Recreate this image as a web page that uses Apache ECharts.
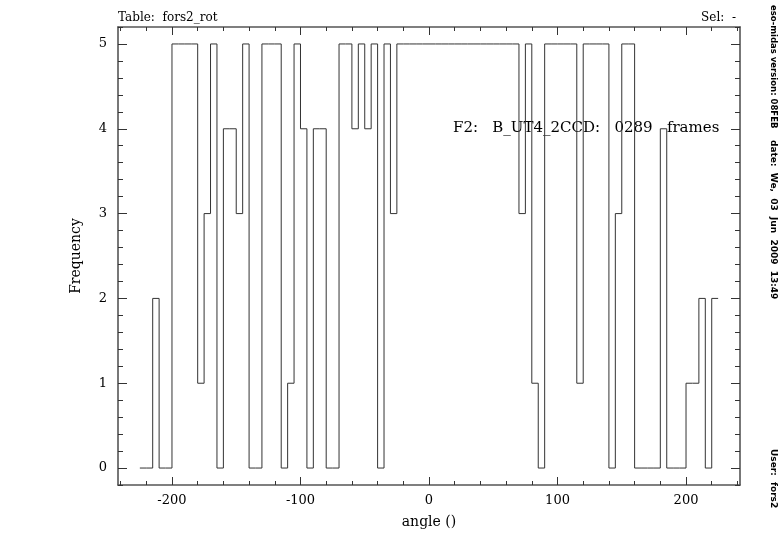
<!DOCTYPE html>
<html>
<head>
<meta charset="utf-8">
<script src="https://cdn.jsdelivr.net/npm/echarts@6/dist/echarts.min.js"></script>
<style>
html,body{margin:0;padding:0;background:#fff;}
#chart{width:782px;height:542px;}
</style>
</head>
<body>
<div id="chart"></div>
<script>
// Histogram bins (left edge of each 5-degree bin) and frequencies
var binLeft = [-225,-220,-215,-210,-205,-200,-195,-190,-185,-180,-175,-170,-165,-160,-155,-150,-145,-140,-135,-130,
  -125,-120,-115,-110,-105,-100,-95,-90,-85,-80,-75,-70,-65,-60,-55,-50,-45,-40,-35,-30,
  -25,-20,-15,-10,-5,0,5,10,15,20,25,30,35,40,45,50,55,60,65,70,
  75,80,85,90,95,100,105,110,115,120,125,130,135,140,145,150,155,160,165,170,
  175,180,185,190,195,200,205,210,215,220];
var lastEdge = 225;
var frequency = [0,0,2,0,0,5,5,5,5,1,3,5,0,4,4,3,5,0,0,5,
  5,5,0,1,5,4,0,4,4,0,0,5,5,4,5,4,5,0,5,3,
  5,5,5,5,5,5,5,5,5,5,5,5,5,5,5,5,5,5,5,3,
  5,1,0,5,5,5,5,5,1,5,5,5,5,0,3,5,5,0,0,0,
  0,4,0,0,0,1,1,2,0,2];
var xTickLabels = [-200,-100,0,100,200];
var yTickLabels = [0,1,2,3,4,5];

var xMin = -242, xMax = 242, yMin = -0.2, yMax = 5.2;
var xMinor = [];
for (var v = -240; v <= 240; v += 20) { if (v % 100 !== 0) xMinor.push(v); }
var yMinor = [];
for (var k = -1; k <= 26; k++) { var yv = Math.round(k * 0.2 * 10) / 10; if (k % 5 !== 0) yMinor.push(yv); }

var stepData = binLeft.map(function (x, i) { return [x, frequency[i]]; });
stepData.push([lastEdge, frequency[frequency.length - 1]]);

var serif = '"DejaVu Serif", "Liberation Serif", serif';
var sideFont = 'bold 9px "DejaVu Sans", sans-serif';
var lineCol = '#555';
var txtCol = '#000';

function xAx(pos, ticks, len, showLine, labels) {
  return {
    type: 'value', position: pos, min: xMin, max: xMax,
    axisLine: { show: showLine, onZero: false, lineStyle: { color: lineCol, width: 1.6 } },
    axisTick: { show: true, inside: true, length: len, customValues: ticks, lineStyle: { color: '#333', width: 1 } },
    axisLabel: labels ? { show: true, customValues: ticks, margin: 9, color: txtCol, fontFamily: serif, fontSize: 13 } : { show: false },
    splitLine: { show: false }
  };
}
function yAx(pos, ticks, len, showLine, labels) {
  return {
    type: 'value', position: pos, min: yMin, max: yMax,
    axisLine: { show: showLine, onZero: false, lineStyle: { color: lineCol, width: 1.6 } },
    axisTick: { show: true, inside: true, length: len, customValues: ticks, lineStyle: { color: '#333', width: 1 } },
    axisLabel: labels ? { show: true, customValues: ticks, margin: 11, color: txtCol, fontFamily: serif, fontSize: 13 } : { show: false },
    splitLine: { show: false }
  };
}

var xAxes = [
  xAx('bottom', xTickLabels, 8, true, true),
  xAx('bottom', xMinor, 4, false, false),
  xAx('top', xTickLabels, 8, true, false),
  xAx('top', xMinor, 4, false, false)
];
xAxes[0].name = 'angle ()';
xAxes[0].nameLocation = 'middle';
xAxes[0].nameGap = 30;
xAxes[0].nameTextStyle = { color: txtCol, fontFamily: serif, fontSize: 14 };

var yAxes = [
  yAx('left', yTickLabels, 9, true, true),
  yAx('left', yMinor, 5, false, false),
  yAx('right', yTickLabels, 9, true, false),
  yAx('right', yMinor, 5, false, false)
];
yAxes[0].name = 'Frequency';
yAxes[0].nameLocation = 'middle';
yAxes[0].nameGap = 35;
yAxes[0].nameTextStyle = { color: txtCol, fontFamily: serif, fontSize: 14 };

var chart = echarts.init(document.getElementById('chart'), null, { renderer: 'canvas' });
chart.setOption({
  backgroundColor: '#fff',
  animation: false,
  grid: { left: 118, right: 42, top: 27, bottom: 57, containLabel: false },
  xAxis: xAxes,
  yAxis: yAxes,
  series: [{
    type: 'line',
    step: 'end',
    xAxisIndex: 0, yAxisIndex: 0,
    data: stepData,
    symbol: 'none',
    lineStyle: { color: '#333', width: 1 },
    clip: false
  }],
  graphic: [
    { type: 'text', left: 118, top: 12, style: { text: 'Table:  fors2_rot', font: '12px ' + serif, fill: txtCol } },
    { type: 'text', right: 46, top: 12, style: { text: 'Sel:  -', font: '12px ' + serif, fill: txtCol } },
    { type: 'text', left: 453, top: 121, style: { text: 'F2:   B_UT4_2CCD:   0289   frames', font: '15px ' + serif, fill: txtCol } },
    { type: 'text', x: 773, y: 5, rotation: -Math.PI / 2, style: { text: 'eso-midas version: 08FEB', font: 'bold 8.5px "DejaVu Sans", sans-serif', fill: txtCol, textVerticalAlign: 'middle' } },
    { type: 'text', x: 773, y: 140, rotation: -Math.PI / 2, style: { text: 'date:  We,  03  Jun  2009  13:49', font: sideFont, fill: txtCol, textVerticalAlign: 'middle' } },
    { type: 'text', x: 773, y: 449, rotation: -Math.PI / 2, style: { text: 'User:  fors2', font: sideFont, fill: txtCol, textVerticalAlign: 'middle' } }
  ]
});
</script>
</body>
</html>
